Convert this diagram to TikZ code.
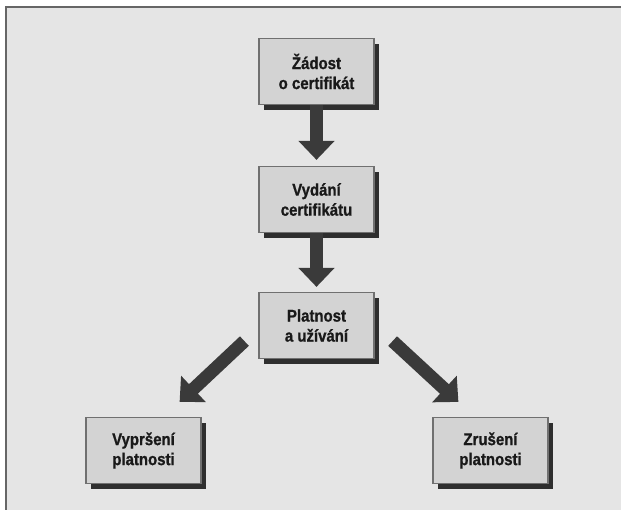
\documentclass[tikz,border=0pt]{standalone}
\usepackage{fontspec}
\usepackage{xcolor}
\usetikzlibrary{calc, arrows.meta, shadows}
\newfontfamily\boxfont[FakeStretch=0.88, BoldFeatures={FakeBold=1}]{Liberation Sans}
\definecolor{pagegray}{HTML}{E5E5E5}
\definecolor{boxgray}{HTML}{D3D3D3}
\definecolor{edgegray}{HTML}{707070}
\definecolor{framegray}{HTML}{666666}
\definecolor{arrowgray}{HTML}{3A3A3A}
\definecolor{shadowgray}{HTML}{2E2E2E}

\begin{document}
\begin{tikzpicture}[x=1pt, y=-1pt,
    stage/.style={draw=edgegray, line width=1.2pt, fill=boxgray,
      minimum width=115pt, minimum height=66pt, inner sep=0pt,
      align=center, font=\boxfont\bfseries\fontsize{17}{20}\selectfont,
      text=black!90,
      drop shadow={shadow xshift=5pt, shadow yshift=-5pt, fill=shadowgray, opacity=1}},
    blockarrow/.style={draw=arrowgray, line width=13pt,
      -{Triangle[width=35pt, length=19pt]}}]
    \useasboundingbox (0,0) rectangle (621,509);
    % Background and frame
    \fill[pagegray] (6,7) rectangle (625,515);
    \draw[framegray, line width=2.5pt] (6,515) -- (6,7) -- (625,7);

    % Stages of the certificate
    \node[stage] (zadost) at (316.5,71.5) {Žádost\\o certifikát};
    \node[stage] (vydani) at (316.5,199.5) {Vydání\\certifikátu};
    \node[stage] (platnost) at (316.5,325.5) {Platnost\\a užívání};
    \node[stage] (vyprseni) at (143.5,450.5) {Vypršení\\platnosti};
    \node[stage] (zruseni) at (490.5,450.5) {Zrušení\\platnosti};

    % Vertical arrows
    \draw[blockarrow, shorten >=6pt] (zadost.south) -- (vydani.north);
    \draw[blockarrow, shorten >=5pt] (vydani.south) -- (platnost.north);

    % Diagonal arrows
    \coordinate (tailL) at ($(platnost.south west)+(-14,-18)$);
    \coordinate (tipL) at ($(vyprseni.north east)+(-22,-15)$);
    \coordinate (tailR) at ($(platnost.south east)+(18,-18)$);
    \coordinate (tipR) at ($(zruseni.north west)+(26,-15)$);
    \draw[blockarrow] (tailL) -- (tipL);
    \draw[blockarrow] (tailR) -- (tipR);
\end{tikzpicture}
\end{document}
